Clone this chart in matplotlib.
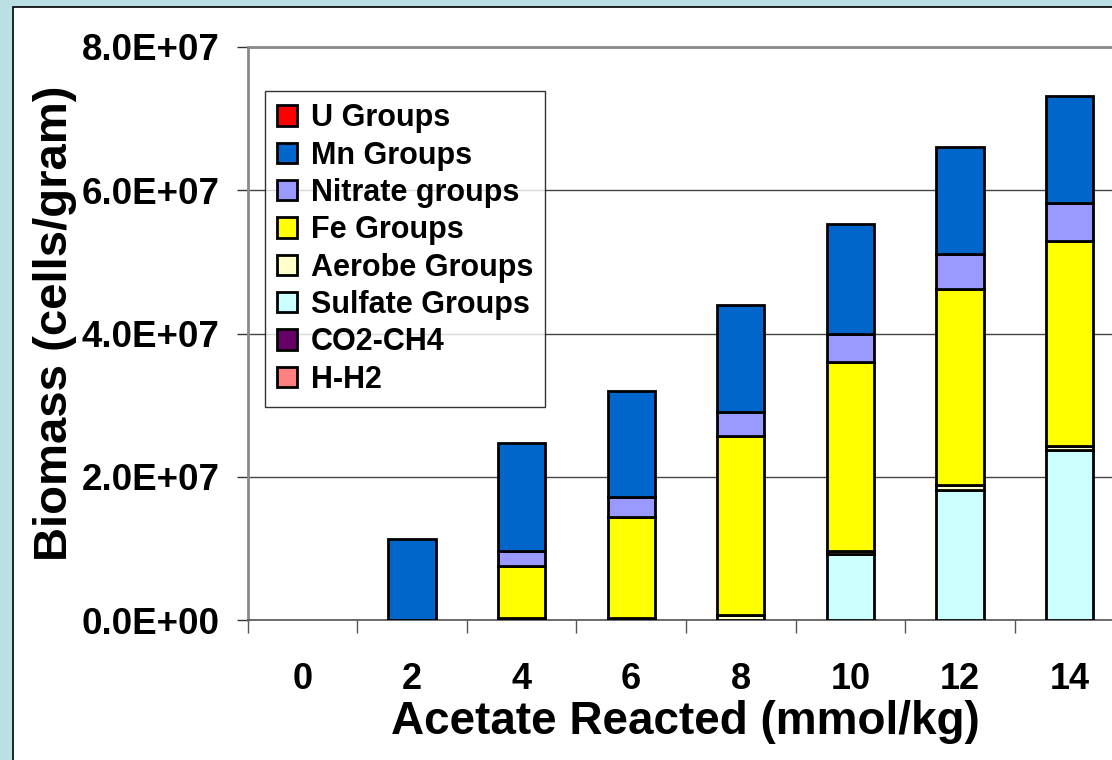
import numpy as np
import matplotlib
matplotlib.use("Agg")
import matplotlib.pyplot as plt
from matplotlib.patches import Rectangle, Patch

plt.rcParams['font.family'] = ['Liberation Sans', 'DejaVu Sans']
plt.rcParams['font.weight'] = 'bold'

# acetate reacted (mmol/kg)
acetate = ['0', '2', '4', '6', '8', '10', '12', '14']

# biomass per group (cells/gram)
h_h2 = [0, 0, 0, 0, 0, 0, 0, 0]
co2_ch4 = [0, 0, 0, 0, 0, 0, 0, 0]
sulfate = [0, 0, 0, 0, 0, 9.2e6, 1.81e7, 2.37e7]
aerobe = [0, 0, 2.5e5, 2.5e5, 7e5, 5e5, 7e5, 6e5]
fe = [0, 0, 7.3e6, 1.42e7, 2.5e7, 2.63e7, 2.74e7, 2.86e7]
nitrate = [0, 0, 2.1e6, 2.7e6, 3.35e6, 3.9e6, 4.9e6, 5.3e6]
mn = [0, 1.13e7, 1.5e7, 1.48e7, 1.49e7, 1.54e7, 1.5e7, 1.5e7]
u_grp = [0, 0, 0, 0, 0, 0, 0, 0]

series = [
    ('H-H2', h_h2, '#FF8080'),
    ('CO2-CH4', co2_ch4, '#660066'),
    ('Sulfate Groups', sulfate, '#CCFFFF'),
    ('Aerobe Groups', aerobe, '#FFFFCC'),
    ('Fe Groups', fe, '#FFFF00'),
    ('Nitrate groups', nitrate, '#9999FF'),
    ('Mn Groups', mn, '#0066CC'),
    ('U Groups', u_grp, '#FF0000'),
]

fig = plt.figure(figsize=(11.12, 7.6), dpi=100)
fig.patch.set_facecolor('#BBE0E3')
# white chart panel (cropped at right and bottom)
fig.patches.append(Rectangle((13 / 1112, -0.1), 1.2, 1 - 7 / 760 + 0.1,
                             transform=fig.transFigure, facecolor='white',
                             edgecolor='black', linewidth=1.2, zorder=-10))

ax = fig.add_axes([247.5 / 1112, 140 / 760, 877 / 1112, 573 / 760])
ax.set_facecolor('white')

x = np.arange(len(acetate))
bottom = np.zeros(len(acetate))
for name, vals, col in series:
    vals = np.array(vals, dtype=float)
    nz = vals > 0  # empty segments get no outline
    if nz.any():
        ax.bar(x[nz], vals[nz], 0.43, bottom=bottom[nz], color=col,
               edgecolor='black', linewidth=2.0, zorder=3)
    bottom += vals

ax.set_xlim(-0.5, 7.5)
ax.set_ylim(0, 8e7)
ax.set_yticks([0, 2e7, 4e7, 6e7, 8e7])
ax.set_yticklabels(['0.0E+00', '2.0E+07', '4.0E+07', '6.0E+07', '8.0E+07'],
                   fontsize=26.5, fontweight='bold')
ax.set_xticks(x)
ax.set_xticklabels(acetate, fontsize=26, fontweight='bold')
ax.set_xticks(np.arange(-0.5, 8, 1), minor=True)
ax.tick_params(axis='x', which='major', length=0, pad=30)
ax.tick_params(axis='x', which='minor', length=9, width=1, color='#555555', direction='out')
ax.tick_params(axis='y', length=8, width=1, color='#333333', direction='out', pad=12)

ax.yaxis.grid(True, color='#444444', linewidth=1)
ax.set_axisbelow(True)
for s in ['top', 'left']:
    ax.spines[s].set_color('#8a8a8a')
    ax.spines[s].set_linewidth(2)
ax.spines['bottom'].set_color('#555555')
ax.spines['bottom'].set_linewidth(1.2)
ax.spines['right'].set_visible(False)

fig.text(685 / 1112, 1 - 722 / 760, 'Acetate Reacted (mmol/kg)', fontsize=33,
         fontweight='bold', ha='center', va='center')
fig.text(55 / 1112, 1 - 323 / 760, 'Biomass (cells/gram)', fontsize=34,
         fontweight='bold', ha='center', va='center', rotation=90)

handles = [Patch(facecolor=c, edgecolor='black', linewidth=2, label=n)
           for n, v, c in series[::-1]]
leg = ax.legend(handles=handles, loc='upper left',
                bbox_to_anchor=((265 - 247.5) / 877, (620 - 91) / 573),
                borderaxespad=0, fontsize=22, frameon=True, fancybox=False,
                handlelength=0.65, handleheight=0.65, handletextpad=0.45,
                labelspacing=0.24, borderpad=0.4)
leg.get_frame().set_edgecolor('black')
leg.get_frame().set_linewidth(1)
leg.set_zorder(5)
for t in leg.get_texts():
    t.set_fontweight('bold')

fig.savefig('out.png', dpi=100, facecolor=fig.get_facecolor())
